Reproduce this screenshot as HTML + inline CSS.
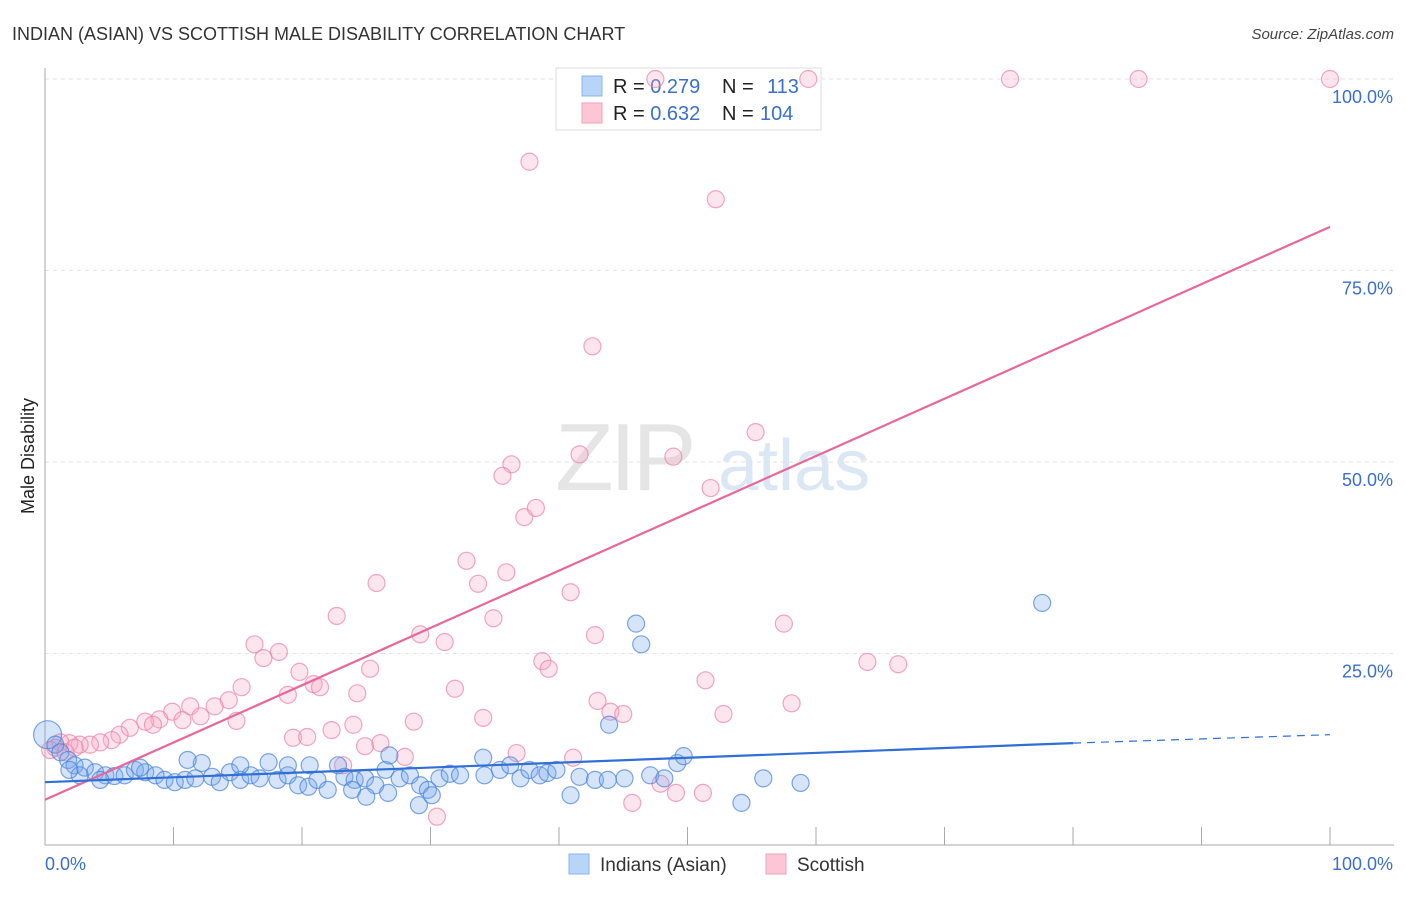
<!DOCTYPE html>
<html><head><meta charset="utf-8"><style>
body{margin:0;background:#fff;font-family:"Liberation Sans",sans-serif;}
svg text{font-family:"Liberation Sans",sans-serif;}
</style></head><body>
<svg id="chart" width="1406" height="892" xmlns="http://www.w3.org/2000/svg">
<text x="12" y="40" font-size="18" fill="#333">INDIAN (ASIAN) VS SCOTTISH MALE DISABILITY CORRELATION CHART</text>
<text x="1394" y="39" font-size="15" fill="#444" text-anchor="end" font-style="italic">Source: ZipAtlas.com</text>
<text transform="translate(34,456) rotate(-90)" font-size="18" fill="#222" text-anchor="middle">Male Disability</text>
<g opacity="0.5">
<text x="555" y="490" font-size="96" fill="#ccc" font-family="Liberation Serif" letter-spacing="-4">ZIP</text>
<text x="718" y="490" font-size="72" fill="#b8d0ea">atlas</text>
</g>
<g id="grid"></g>
<g id="axes"></g>
<g>
<rect x="556" y="68" width="265" height="62" fill="#fff" stroke="#ddd"/>
<rect x="582" y="76" width="20" height="20" fill="#b8d4f8" stroke="#8ab4ec"/>
<rect x="582" y="103" width="20" height="20" fill="#fcc6d6" stroke="#f2a2ba"/>
<text x="613" y="93" font-size="20" fill="#222">R = <tspan fill="#3a6fd0">0.279</tspan><tspan x="722">N = </tspan><tspan x="767" fill="#3a6fd0">113</tspan></text>
<text x="613" y="120" font-size="20" fill="#222">R = <tspan fill="#3a6fd0">0.632</tspan><tspan x="722">N = </tspan><tspan x="760" fill="#3a6fd0">104</tspan></text>
</g>
<g id="pts"></g>
<g id="lines"></g>
<g>
<rect x="569" y="854" width="20" height="20" fill="#b8d4f8" stroke="#8ab4ec"/>
<text x="600" y="871" font-size="19" fill="#333">Indians (Asian)</text>
<rect x="766" y="854" width="20" height="20" fill="#fcc6d6" stroke="#f2a2ba"/>
<text x="797" y="871" font-size="19" fill="#333">Scottish</text>
</g>
</svg>
<script>
const yTicks=[25,50,75,100];
const yTickLabels=["25.0%","50.0%","75.0%","100.0%"];
const xTicks=[0,10,20,30,40,50,60,70,80,90,100];
const blueX=[77.6,46.0,46.4,43.9,0.2,0.8,1.2,1.8,2.3,3.1,3.9,4.7,5.4,6.2,7.0,7.8,8.6,9.3,10.1,10.9,11.7,12.2,13.0,13.6,14.4,15.2,16.0,16.7,17.4,18.1,18.9,19.7,20.5,21.2,22.0,22.8,23.3,24.1,24.9,25.7,26.5,26.8,27.6,28.4,29.2,29.8,29.1,30.1,30.7,31.5,32.3,34.1,34.2,35.4,36.2,37.0,37.7,38.5,39.1,39.8,40.9,41.6,42.8,43.8,45.1,47.1,48.2,49.2,49.7,54.2,55.9,58.8,23.9,25.0,26.7,20.6,18.9,15.2,11.1,7.4,4.3,2.7,1.9];
const blueY=[31.6,28.9,26.2,15.7,14.4,13.1,12.1,11.1,10.4,10.1,9.5,9.1,9.0,9.1,9.8,9.5,9.1,8.5,8.2,8.5,8.7,10.7,8.9,8.2,9.5,8.5,9.1,8.7,10.8,8.5,9.1,7.8,7.6,8.5,7.2,10.4,8.9,8.5,8.7,7.8,9.8,11.7,8.7,9.1,7.8,7.2,5.2,6.5,8.7,9.3,9.1,11.4,9.1,9.8,10.4,8.7,9.8,9.1,9.4,9.8,6.5,8.9,8.5,8.5,8.7,9.1,8.7,10.7,11.6,5.5,8.7,8.1,7.2,6.3,6.8,10.4,10.4,10.4,11.1,10.1,8.5,9.1,9.8];
const pinkX=[37.7,52.2,42.6,55.3,41.6,48.9,51.8,36.3,35.6,37.3,38.2,32.8,33.7,25.8,35.9,40.9,22.7,34.9,29.2,42.8,31.1,18.2,16.3,17.0,19.8,25.3,38.7,39.2,57.5,64.0,66.4,51.4,31.9,20.9,21.4,24.3,15.3,18.9,43.0,52.8,58.1,44.0,45.0,28.7,34.1,14.3,13.2,11.3,9.9,8.9,7.8,12.1,10.7,14.9,8.4,6.6,5.8,5.2,4.3,3.5,2.7,1.9,1.2,0.8,0.4,1.6,2.3,24.0,22.3,19.3,20.4,26.1,24.9,28.0,23.2,36.7,41.1,45.7,30.5,49.1,47.9,51.2,47.5,59.4,75.1,85.1,100];
const pinkY=[89.2,84.3,65.1,53.9,51.0,50.7,46.6,49.7,48.2,42.8,44.0,37.1,34.1,34.2,35.6,33.0,29.9,29.6,27.5,27.4,26.5,25.2,26.2,24.4,22.6,23.0,24.0,23.0,28.9,23.9,23.6,21.5,20.4,21.0,20.6,19.8,20.6,19.6,18.8,17.1,18.5,17.4,17.1,16.1,16.6,18.9,18.1,18.1,17.4,16.4,16.1,16.8,16.3,16.2,15.7,15.3,14.4,13.7,13.4,13.1,13.1,13.3,13.4,12.7,12.4,12.1,12.7,15.7,15.0,14.0,14.1,13.3,12.9,11.5,10.4,12.0,11.4,5.5,3.7,6.8,8.0,6.8,100,100,100,100,100];
const blueTrend=[8.2,13.3,14.4]; // at x=0, 80, 100
const pinkTrend=[5.9,80.7]; // at x=0, 100
const NS="http://www.w3.org/2000/svg";
const X0=45,X1=1330,Y0=845,YT=79;
const sx=v=>X0+(X1-X0)*v/100;
const sy=v=>Y0-(Y0-YT)*v/100;
function mk(tag,parent,attrs){const e=document.createElementNS(NS,tag);for(const k in attrs)e.setAttribute(k,attrs[k]);document.getElementById(parent).appendChild(e);return e;}
yTicks.forEach((t,i)=>{
 const l=mk('line','grid',{x1:X0,x2:1394,y1:sy(t),y2:sy(t),stroke:'#e2e2e2','stroke-dasharray':'4,4'});
 
 
 const tx=mk('text','grid',{x:1393,y:sy(t)+24,'font-size':18,fill:'#3a6fd0','text-anchor':'end'});
 tx.textContent=yTickLabels[i];
 
 
});
let a=mk('line','axes',{x1:X0,x2:X0,y1:68,y2:Y0,stroke:'#aaa'});


a=mk('line','axes',{x1:X0,x2:1394,y1:Y0,y2:Y0,stroke:'#aaa'});


xTicks.forEach(t=>{if(t===0)return;const l=mk('line','axes',{x1:sx(t),x2:sx(t),y1:827,y2:Y0,stroke:'#aaa'});
 
 });
let t=mk('text','axes',{x:45,y:870,'font-size':18,fill:'#3a6fd0'});t.textContent='0.0%';


t=mk('text','axes',{x:1393,y:870,'font-size':18,fill:'#3a6fd0','text-anchor':'end'});t.textContent='100.0%';


pinkX.forEach((x,i)=>{const c=mk('circle','pts',{cx:sx(x),cy:sy(pinkY[i]),r:8.5,fill:'rgba(248,170,196,0.3)',stroke:'rgba(236,130,165,0.7)','stroke-width':1.2});
 
 });
blueX.forEach((x,i)=>{const c=mk('circle','pts',{cx:sx(x),cy:sy(blueY[i]),r:i===4?14:8.5,fill:'rgba(120,165,235,0.3)',stroke:'rgba(70,130,220,0.7)','stroke-width':1.2});
 
 });
let ln=mk('line','lines',{x1:sx(0),y1:sy(pinkTrend[0]),x2:sx(100),y2:sy(pinkTrend[1]),stroke:'#e8679a','stroke-width':2.2});


ln=mk('line','lines',{x1:sx(0),y1:sy(blueTrend[0]),x2:sx(80),y2:sy(blueTrend[1]),stroke:'#2f6fd6','stroke-width':2.2});


ln=mk('line','lines',{x1:sx(80),y1:sy(blueTrend[1]),x2:sx(100),y2:sy(blueTrend[2]),stroke:'#2f6fd6','stroke-width':1.2,'stroke-dasharray':'8,6'});


</script>
</body></html>
